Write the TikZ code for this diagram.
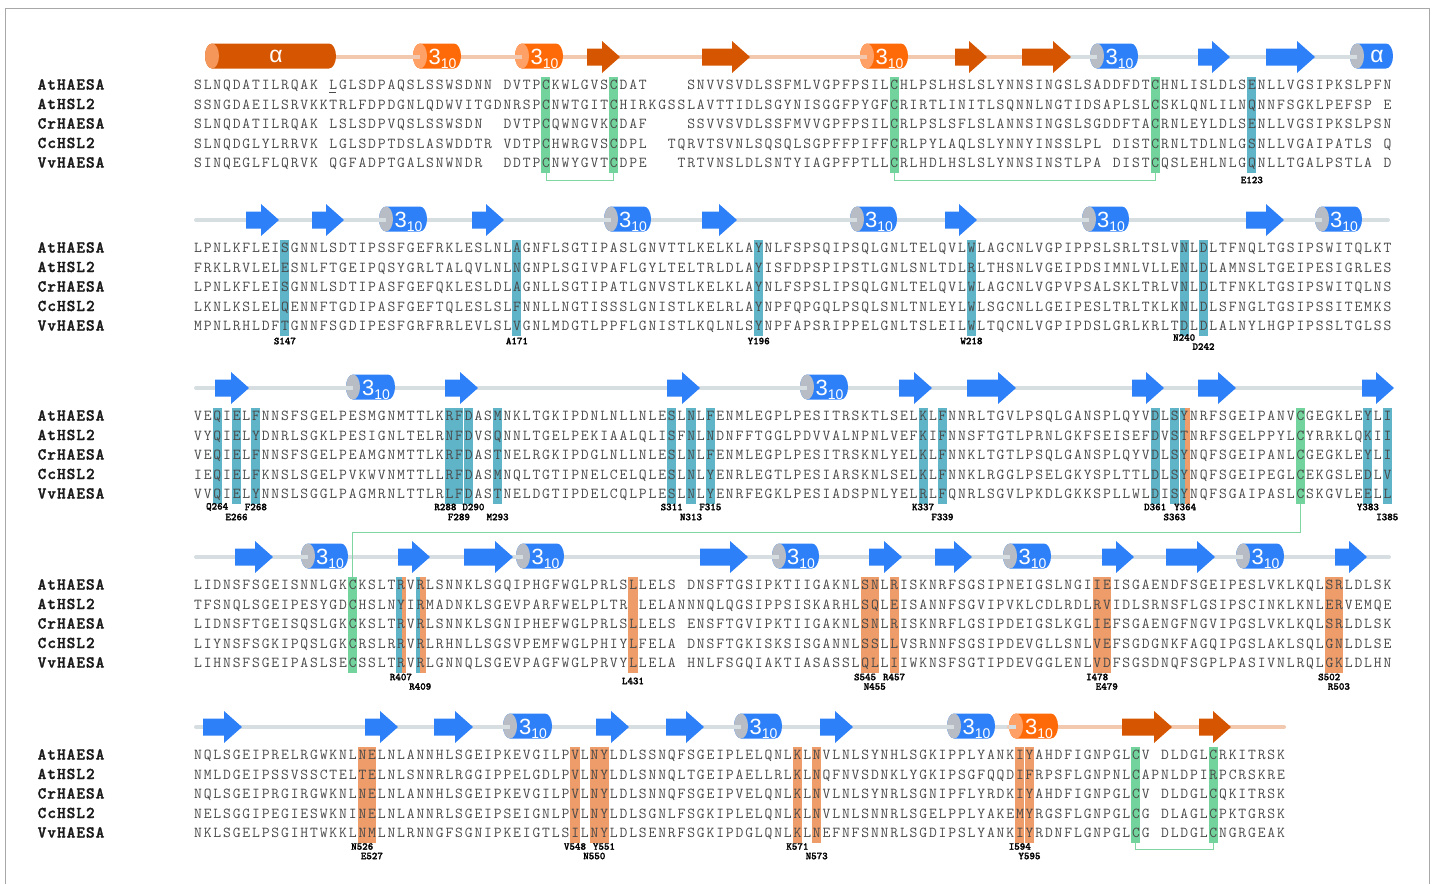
\documentclass[tikz,border=0pt]{standalone}
\usepackage{fontspec}
\newfontfamily\ssf{Liberation Sans}
\newfontfamily\heavymono[FakeBold=1.6]{lmmonolt10-bold.otf}

\definecolor{seqgray}{HTML}{4A4A4A}
\definecolor{hlteal}{HTML}{5FB4C8}
\definecolor{hlgreen}{HTML}{72D49C}
\definecolor{hlorange}{HTML}{EE9D6A}
\definecolor{brk}{HTML}{7FD6A2}
\definecolor{ordark}{HTML}{D55500}
\definecolor{orbody}{HTML}{FF6A08}
\definecolor{orcap}{HTML}{FFA066}
\definecolor{oracap}{HTML}{F5975A}
\definecolor{blbody}{HTML}{2D80F7}
\definecolor{blcap}{HTML}{B7BCC5}
\definecolor{lnor}{HTML}{F2C8AE}
\definecolor{lngray}{HTML}{D6DEE2}
\definecolor{framegray}{HTML}{A8A8A8}

% one residue per fixed-width cell; '-' is an alignment gap
\def\seqcw{9.67pt}
\def\seqstep#1{\ifx\relax#1\else\makebox[\seqcw][c]{\if-#1\else#1\fi}\expandafter\seqstep\fi}
\newcommand\seqrow[1]{\seqstep#1\relax}

\newcount\ssno
\newcommand\tten{{\fontsize{22}{22}\selectfont 3}\raisebox{-4.5pt}{\fontsize{14}{14}\selectfont 10}}
\newcommand\alf{{\fontsize{23}{23}\selectfont\raisebox{1.5pt}{α}}}

% helix cylinder: x0, x1, centre y, body colour, cap colour, label, stub options
\newcommand\cyl[7]{%
  \fill[#4] ({#1+7},{#3-12.5}) -- ({#2-7},{#3-12.5})
     arc[start angle=-90,end angle=90,x radius=7,y radius=12.5]
     -- ({#1+7},{#3+12.5})
     arc[start angle=90,end angle=270,x radius=7,y radius=12.5] -- cycle;
  \fill[#5] ({#1+7},#3) ellipse[x radius=7,y radius=12.5];
  \draw[#7,line width=4] (#1,{#3+1}) -- ({#1+7},{#3+1});
  \global\advance\ssno by 1
  \node[cyltext] (cyl\the\ssno) at ({(#1+7+#2)/2+2},{#3+8}) {#6};
}
% strand arrow: x0, x1, y, colour
\newcommand\sarr[4]{%
  \fill[#4] (#1,{#3-8.5}) -- ({#2-18},{#3-8.5}) -- ({#2-18},{#3-16}) -- (#2,#3)
     -- ({#2-18},{#3+16}) -- ({#2-18},{#3+8.5}) -- (#1,{#3+8.5}) -- cycle;
}
% highlighted alignment column: block y, column, colour
\newcommand\hl[3]{\fill[#3] ({193.3+9.67*#2},{#1+20}) rectangle ({192.7+9.67*(#2+1)},{#1+116});}
% partial column: block y, column, from fraction, to fraction, colour
\newcommand\hlp[5]{\fill[#5] ({193+9.67*(#2+#3)},{#1+20}) rectangle ({193+9.67*(#2+#4)},{#1+116});}
% residue number under a column
\newcommand\lab[3]{\node[lb] (lab#3) at ({197.835+9.67*#1},#2) {#3};}

\newcommand\seqblock[7]{%
  \node[nm] (#2n1) at (37,{#1+32.5}) {\seqrow{AtHAESA}};
  \node[nm] (#2n2) at (37,{#1+52}) {\seqrow{AtHSL2}};
  \node[nm] (#2n3) at (37,{#1+71.5}) {\seqrow{CrHAESA}};
  \node[nm] (#2n4) at (37,{#1+91}) {\seqrow{CcHSL2}};
  \node[nm] (#2n5) at (37,{#1+110.5}) {\seqrow{VvHAESA}};
  \node[sq] (#2s1) at (193,{#1+32.5}) {\seqrow{#3}};
  \node[sq] (#2s2) at (193,{#1+52}) {\seqrow{#4}};
  \node[sq] (#2s3) at (193,{#1+71.5}) {\seqrow{#5}};
  \node[sq] (#2s4) at (193,{#1+91}) {\seqrow{#6}};
  \node[sq] (#2s5) at (193,{#1+110.5}) {\seqrow{#7}};
}

\begin{document}
\begin{tikzpicture}[x=1pt,y=-1pt,
  nm/.style={anchor=base west,inner sep=0pt,font=\fontsize{16.5}{16}\selectfont\heavymono,text=black!90},
  sq/.style={anchor=base west,inner sep=0pt,font=\fontsize{15.2}{16}\selectfont\ttfamily,text=seqgray},
  lb/.style={anchor=center,inner sep=0pt,font=\fontsize{10.5}{10.5}\selectfont\heavymono,text=black},
  cyltext/.style={anchor=base,inner sep=0pt,text=white,font=\ssf},
  bracket/.style={draw=brk,line width=1},
  lnorange/.style={draw=lnor,line width=4},
  lngrey/.style={draw=lngray,line width=4,line cap=round}]
\useasboundingbox (0,0) rectangle (1435,884);
\fill[white] (0,0) rectangle (1435,884);
\draw[framegray,line width=0.8] (5.5,884) -- (5.5,8.5) -- (1429.5,8.5) -- (1429.5,884);

% ---------- secondary structure ----------
% block 1
\draw[lnorange] (205,57) -- (1071,57);
\draw[lngrey] (1071,57) -- (1388,57);
\cyl{205}{336}{56}{ordark}{oracap}{\alf}{draw=none}
\cyl{413}{461}{56}{orbody}{orcap}{\tten}{lnor}
\cyl{515}{563}{56}{orbody}{orcap}{\tten}{lnor}
\sarr{587}{620}{57}{ordark}
\sarr{702}{750}{57}{ordark}
\cyl{860}{908}{56}{orbody}{orcap}{\tten}{lnor}
\sarr{955}{987}{57}{ordark}
\sarr{1022}{1071}{57}{ordark}
\cyl{1090}{1138}{56}{blbody}{blcap}{\tten}{lngray}
\sarr{1198}{1230}{57}{blbody}
\sarr{1266}{1315}{57}{blbody}
\cyl{1350}{1393}{56}{blbody}{blcap}{\alf}{lngray}
% block 2
\draw[lngrey] (196,220) -- (1388,220);
\sarr{246}{279}{220}{blbody}
\sarr{312}{344}{220}{blbody}
\cyl{379}{427}{219}{blbody}{blcap}{\tten}{lngray}
\sarr{472}{504}{220}{blbody}
\cyl{604}{651}{219}{blbody}{blcap}{\tten}{lngray}
\sarr{702}{737}{220}{blbody}
\cyl{850}{897}{219}{blbody}{blcap}{\tten}{lngray}
\sarr{945}{977}{220}{blbody}
\cyl{1082}{1129}{219}{blbody}{blcap}{\tten}{lngray}
\sarr{1246}{1284}{220}{blbody}
\cyl{1315}{1362}{219}{blbody}{blcap}{\tten}{lngray}
% block 3
\draw[lngrey] (196,388) -- (1380,388);
\sarr{215}{249}{388}{blbody}
\cyl{346}{395}{387}{blbody}{blcap}{\tten}{lngray}
\sarr{445}{478}{388}{blbody}
\sarr{667}{700}{388}{blbody}
\cyl{800}{848}{387}{blbody}{blcap}{\tten}{lngray}
\sarr{899}{932}{388}{blbody}
\sarr{967}{1016}{388}{blbody}
\sarr{1132}{1164}{388}{blbody}
\sarr{1198}{1236}{388}{blbody}
\sarr{1362}{1394}{388}{blbody}
% block 4
\draw[lngrey] (196,557) -- (1389,557);
\sarr{235}{273}{557}{blbody}
\cyl{301}{348}{556}{blbody}{blcap}{\tten}{lngray}
\sarr{398}{430}{557}{blbody}
\sarr{464}{513}{557}{blbody}
\cyl{516}{564}{556}{blbody}{blcap}{\tten}{lngray}
\sarr{700}{748}{557}{blbody}
\cyl{772}{819}{556}{blbody}{blcap}{\tten}{lngray}
\sarr{869}{902}{557}{blbody}
\sarr{935}{972}{557}{blbody}
\cyl{1003}{1051}{556}{blbody}{blcap}{\tten}{lngray}
\sarr{1102}{1134}{557}{blbody}
\sarr{1166}{1215}{557}{blbody}
\cyl{1236}{1284}{556}{blbody}{blcap}{\tten}{lngray}
\sarr{1335}{1367}{557}{blbody}
% block 5
\draw[lngrey] (196,727) -- (1009,727);
\draw[lnorange,line cap=round] (1009,727) -- (1284,727);
\sarr{203}{242}{727}{blbody}
\sarr{365}{398}{727}{blbody}
\sarr{434}{473}{727}{blbody}
\cyl{503}{552}{726}{blbody}{blcap}{\tten}{lngray}
\sarr{596}{629}{727}{blbody}
\sarr{666}{704}{727}{blbody}
\cyl{734}{782}{726}{blbody}{blcap}{\tten}{lngray}
\sarr{820}{853}{727}{blbody}
\cyl{947}{995}{726}{blbody}{blcap}{\tten}{lngray}
\cyl{1009}{1058}{726}{orbody}{orcap}{\tten}{lngray}
\sarr{1122}{1172}{727}{ordark}
\sarr{1199}{1231}{727}{ordark}

% ---------- highlighted columns ----------
% block 1
\hl{57}{36}{hlgreen}\hl{57}{43}{hlgreen}\hl{57}{72}{hlgreen}\hl{57}{99}{hlgreen}
\hl{57}{109}{hlteal}
% block 2
\foreach \c in {9,33,58,80,102,104} {\hl{220}{\c}{hlteal}}
% block 3
\foreach \c in {2,4,6,26,27,28,31,49,51,53,75,77,99,101,121,123} {\hl{388}{\c}{hlteal}}
\hlp{388}{102}{0.03}{0.62}{hlteal}
\hlp{388}{102}{0.62}{1.12}{hlorange}
\hl{388}{114}{hlgreen}
% block 4
\hl{557}{16}{hlgreen}
\hlp{557}{21}{0.03}{0.62}{hlteal}\hlp{557}{21}{0.62}{1.0}{hlorange}
\hlp{557}{23}{0.03}{0.5}{hlteal}\hlp{557}{23}{0.5}{1.05}{hlorange}
\foreach \c in {45,69,70,72,93,94,117,118} {\hl{557}{\c}{hlorange}}
% block 5
\foreach \c in {17,18,39,41,42,62,64,85,86} {\hl{727}{\c}{hlorange}}
\hl{727}{97}{hlgreen}\hl{727}{105}{hlgreen}

% ---------- disulfide brackets ----------
\coordinate (d1a) at (546.0,173);  \coordinate (d1b) at (613.7,173);
\coordinate (d2a) at (894.1,173);  \coordinate (d2b) at (1155.2,173);
\coordinate (d3a) at (1300.2,504); \coordinate (d3b) at (352.6,577);
\coordinate (d3m) at (352.6,532.7);
\coordinate (d4a) at (1135.8,843); \coordinate (d4b) at (1213.2,843);
\draw[bracket] (d1a) -- ++(0,7) -| (d1b);
\draw[bracket] (d2a) -- ++(0,7) -| (d2b);
\draw[bracket] (d3a) |- (d3m) -- (d3b);
\draw[bracket] (d4a) -- ++(0,6) -| (d4b);

% ---------- sequences ----------
\seqblock{57}{a}
 {SLNQDATILRQAK-LGLSDPAQSLSSWSDNN-DVTPCKWLGVSCDAT----SNVVSVDLSSFMLVGPFPSILCHLPSLHSLSLYNNSINGSLSADDFDTCHNLISLDLSENLLVGSIPKSLPFN}
 {SSNGDAEILSRVKKTRLFDPDGNLQDWVITGDNRSPCNWTGITCHIRKGSSLAVTTIDLSGYNISGGFPYGFCRIRTLINITLSQNNLNGTIDSAPLSLCSKLQNLILNQNNFSGKLPEFSP-E}
 {SLNQDATILRQAK-LSLSDPVQSLSSWSDN--DVTPCQWNGVKCDAF----SSVVSVDLSSFMVVGPFPSILCRLPSLSFLSLANNSINGSLSGDDFTACRNLEYLDLSENLLVGSIPKSLPSN}
 {SLNQDGLYLRRVK-LGLSDPTDSLASWDDTR-VDTPCHWRGVSCDPL--TQRVTSVNLSQSQLSGPFFPIFFCRLPYLAQLSLYNNYINSSLPL-DISTCRNLTDLNLGSNLLVGAIPATLS-Q}
 {SINQEGLFLQRVK-QGFADPTGALSNWNDR--DDTPCNWYGVTCDPE---TRTVNSLDLSNTYIAGPFPTLLCRLHDLHSLSLYNNSINSTLPA-DISTCQSLEHLNLGQNLLTGALPSTLA-D}
\draw[seqgray,line width=1] ({193+9.67*14+1},92) -- ++(7,0);
\seqblock{220}{b}
 {LPNLKFLEISGNNLSDTIPSSFGEFRKLESLNLAGNFLSGTIPASLGNVTTLKELKLAYNLFSPSQIPSQLGNLTELQVLWLAGCNLVGPIPPSLSRLTSLVNLDLTFNQLTGSIPSWITQLKT}
 {FRKLRVLELESNLFTGEIPQSYGRLTALQVLNLNGNPLSGIVPAFLGYLTELTRLDLAYISFDPSPIPSTLGNLSNLTDLRLTHSNLVGEIPDSIMNLVLLENLDLAMNSLTGEIPESIGRLES}
 {LPNLKFLEISGNNLSDTIPASFGEFQKLESLDLAGNLLSGTIPATLGNVSTLKELKLAYNLFSPSLIPSQLGNLTELQVLWLAGCNLVGPVPSALSKLTRLVNLDLTFNKLTGSIPSWITQLNS}
 {LKNLKSLELQENNFTGDIPASFGEFTQLESLSLFNNLLNGTISSSLGNISTLKELRLAYNPFQPGQLPSQLSNLTNLEYLWLSGCNLLGEIPESLTRLTKLKNLDLSFNGLTGSIPSSITEMKS}
 {MPNLRHLDFTGNNFSGDIPESFGRFRRLEVLSLVGNLMDGTLPPFLGNISTLKQLNLSYNPFAPSRIPPELGNLTSLEILWLTQCNLVGPIPDSLGRLKRLTDLDLALNYLHGPIPSSLTGLSS}
\seqblock{388}{c}
 {VEQIELFNNSFSGELPESMGNMTTLKRFDASMNKLTGKIPDNLNLLNLESLNLFENMLEGPLPESITRSKTLSELKLFNNRLTGVLPSQLGANSPLQYVDLSYNRFSGEIPANVCGEGKLEYLI}
 {VYQIELYDNRLSGKLPESIGNLTELRNFDVSQNNLTGELPEKIAALQLISFNLNDNFFTGGLPDVVALNPNLVEFKIFNNSFTGTLPRNLGKFSEISEFDVSTNRFSGELPPYLCYRRKLQKII}
 {VEQIELFNNSFSGELPEAMGNMTTLKRFDASTNELRGKIPDGLNLLNLESLNLFENMLEGPLPESITRSKNLYELKLFNNKLTGTLPSQLGANSPLQYVDLSYNQFSGEIPANLCGEGKLEYLI}
 {IEQIELFKNSLSGELPVKWVNMTTLLRFDASMNQLTGTIPNELCELQLESLNLYENRLEGTLPESIARSKNLSELKLFNNKLRGGLPSELGKYSPLTTLDLSYNQFSGEIPEGLCEKGSLEDLV}
 {VVQIELYNNSLSGGLPAGMRNLTTLRLFDASTNELDGTIPDELCQLPLESLNLYENRFEGKLPESIADSPNLYELRLFQNRLSGVLPKDLGKKSPLLWLDISYNQFSGAIPASLCSKGVLEELL}
\seqblock{557}{d}
 {LIDNSFSGEISNNLGKCKSLTRVRLSNNKLSGQIPHGFWGLPRLSLLELS-DNSFTGSIPKTIIGAKNLSNLRISKNRFSGSIPNEIGSLNGIIEISGAENDFSGEIPESLVKLKQLSRLDLSK}
 {TFSNQLSGEIPESYGDCHSLNYIRMADNKLSGEVPARFWELPLTR-LELANNNQLQGSIPPSISKARHLSQLEISANNFSGVIPVKLCDLRDLRVIDLSRNSFLGSIPSCINKLKNLERVEMQE}
 {LIDNSFTGEISQSLGKCKSLTRVRLSNNKLSGNIPHEFWGLPRLSLLELS-ENSFTGVIPKTIIGAKNLSNLRISKNRFLGSIPDEIGSLKGLIEFSGAENGFNGVIPGSLVKLKQLSRLDLSK}
 {LIYNSFSGKIPQSLGKCRSLRRVRLRHNLLSGSVPEMFWGLPHIYLFELA-DNSFTGKISKSISGANNLSSLLVSRNNFSGSIPDEVGLLSNLVEFSGDGNKFAGQIPGSLAKLSQLGNLDLSE}
 {LIHNSFSGEIPASLSECSSLTRVRLGNNQLSGEVPAGFWGLPRVYLLELA-HNLFSGQIAKTIASASSLQLLIIWKNSFSGTIPDEVGGLENLVDFSGSDNQFSGPLPASIVNLRQLGKLDLHN}
\seqblock{727}{e}
 {NQLSGEIPRELRGWKNLNELNLANNHLSGEIPKEVGILPVLNYLDLSSNQFSGEIPLELQNLKLNVLNLSYNHLSGKIPPLYANKIYAHDFIGNPGLCV-DLDGLCRKITRSK}
 {NMLDGEIPSSVSSCTELTELNLSNNRLRGGIPPELGDLPVLNYLDLSNNQLTGEIPAELLRLKLNQFNVSDNKLYGKIPSGFQQDIFRPSFLGNPNLCAPNLDPIRPCRSKRE}
 {NQLSGEIPRGIRGWKNLNELNLANNHLSGEIPKEVGILPVLNYLDLSNNQFSGEIPVELQNLKLNVLNLSYNRLSGNIPFLYRDKIYAHDFIGNPGLCV-DLDGLCQKITRSK}
 {NELSGGIPEGIESWKNINELNLANNRLSGEIPSEIGNLPVLNYLDLSGNLFSGKIPLELQNLKLNVLNLSNNRLSGELPPLYAKEMYRGSFLGNPGLCG-DLAGLCPKTGRSK}
 {NKLSGELPSGIHTWKKLNMLNLRNNGFSGNIPKEIGTLSILNYLDLSENRFSGKIPDGLQNLKLNEFNFSNNRLSGDIPSLYANKIYRDNFLGNPGLCG-DLDGLCNGRGEAK}

% ---------- residue numbers ----------
\lab{109}{180}{E123}
\lab{9}{341}{S147}\lab{33}{341}{A171}\lab{58}{341}{Y196}\lab{80}{341}{W218}
\lab{102}{337.5}{N240}\lab{104}{346.5}{D242}
\lab{2}{507}{Q264}\lab{4}{517}{E266}\lab{6}{507}{F268}
\lab{25.6}{507}{R288}\lab{27}{517}{F289}\lab{28.5}{507}{D290}\lab{31}{517}{M293}
\lab{49}{507}{S311}\lab{51}{517}{N313}\lab{53}{507}{F315}
\lab{75}{507}{K337}\lab{77}{517}{F339}
\lab{99}{507}{D361}\lab{101}{517}{S363}\lab{102.1}{507}{Y364}
\lab{121}{507}{Y383}\lab{123}{517}{I385}
\lab{21}{677}{R407}\lab{23}{686.5}{R409}\lab{45}{681}{L431}
\lab{69}{677}{S545}\lab{70}{686.5}{N455}\lab{72}{677}{R457}
\lab{93}{677}{I478}\lab{94}{686.5}{E479}
\lab{117}{677}{S502}\lab{118}{686.5}{R503}
\lab{17}{846.5}{N526}\lab{18}{856}{E527}
\lab{39}{846.5}{V548}\lab{41}{856}{N550}\lab{42}{846.5}{Y551}
\lab{62}{846.5}{K571}\lab{64}{856}{N573}
\lab{85}{846.5}{I594}\lab{86}{856}{Y595}
\end{tikzpicture}
\end{document}
